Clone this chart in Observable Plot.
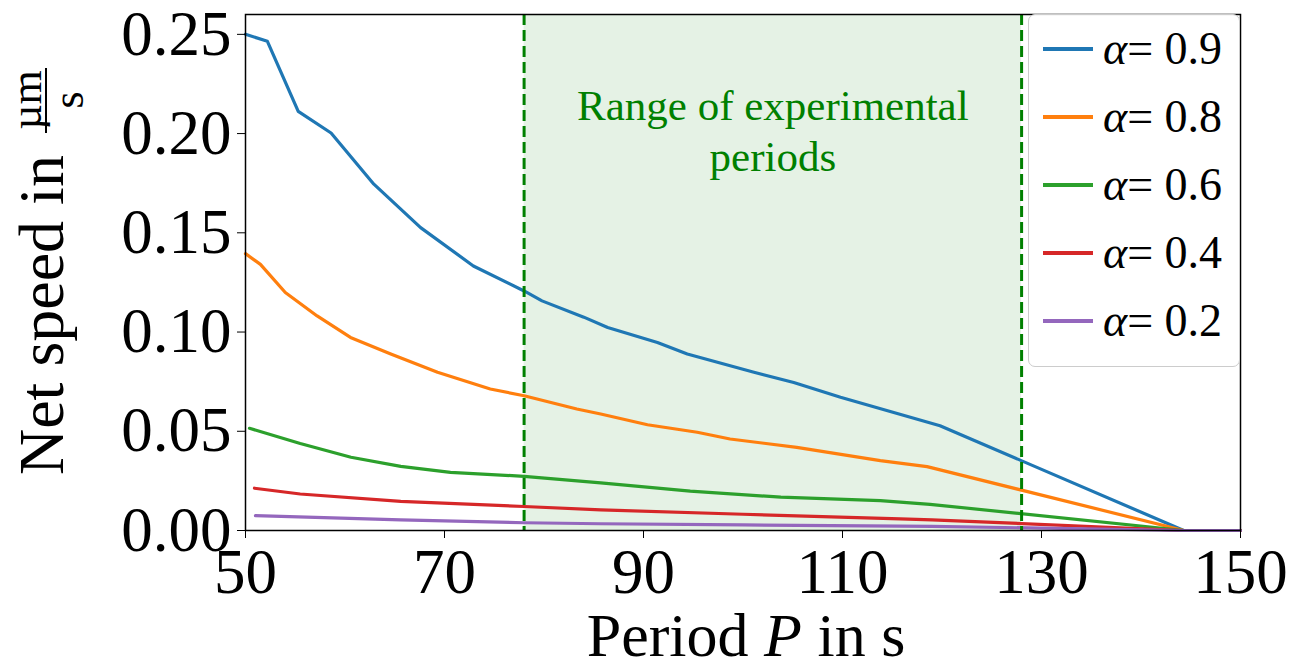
<!DOCTYPE html>
<html>
<head>
<meta charset="utf-8">
<script src="https://cdn.jsdelivr.net/npm/d3@7"></script>
<script src="https://cdn.jsdelivr.net/npm/@observablehq/plot@0.6"></script>
<style>
  html, body { margin: 0; padding: 0; background: #fff; }
  #wrap { position: relative; width: 1308px; height: 671px; font-family: "Liberation Serif", serif; }
  #legend { position: absolute; left: 1028px; top: 14px; width: 210px; height: 351px;
            border: 1.5px solid #cccccc; border-radius: 7px; background: rgba(255,255,255,0.85); box-sizing: content-box; }
  .row { display: flex; align-items: center; height: 68px; }
  .swatch { margin-left: 14px; width: 50px; height: 3.5px; }
  .lab { margin-left: 10px; font-size: 46px; color: #000; line-height: 1; }
</style>
</head>
<body>
<div id="wrap"></div>
<script>
// ---- data ----
const alphas = ["0.9", "0.8", "0.6", "0.4", "0.2"];
const colors = ["#1f77b4", "#ff7f0e", "#2ca02c", "#d62728", "#9467bd"];

const p09 = [50, 52.2, 55.3, 58.6, 62.9, 67.6, 72.9, 78, 79.8, 84, 86.4, 91.4, 94.4, 101.1, 105.1, 109.8, 119.8, 144.3, 150];
const v09 = [0.250, 0.2465, 0.2112, 0.2003, 0.1745, 0.1526, 0.1333, 0.1207, 0.1157, 0.1075, 0.1023, 0.0947, 0.0889, 0.0797, 0.0746, 0.0671, 0.0528, 0, 0];

const p08 = [50, 51.5, 54.0, 57.2, 60.55, 64.6, 69.3, 74.6, 78, 83.3, 85.7, 90.4, 95.4, 98.7, 105.4, 113.8, 118.5, 144.3, 150];
const v08 = [0.1395, 0.1341, 0.1199, 0.1081, 0.0973, 0.0889, 0.0797, 0.0713, 0.0679, 0.0612, 0.0587, 0.0533, 0.0495, 0.0461, 0.0419, 0.0352, 0.0322, 0, 0];

const p06 = [50.4, 55.5, 60.6, 65.6, 70.6, 78, 85.7, 94.7, 103.8, 113.8, 118.8, 144.3, 150];
const v06 = [0.0515, 0.0438, 0.0369, 0.0323, 0.0293, 0.0273, 0.0240, 0.0198, 0.0168, 0.0151, 0.0132, 0, 0];

const p04 = [50.9, 55.5, 65.6, 78, 85.7, 100, 115.8, 119, 144.3, 150];
const v04 = [0.0213, 0.0184, 0.0147, 0.0121, 0.0104, 0.0082, 0.0059, 0.0054, 0, 0];

const p02 = [51, 65.6, 78, 85.7, 100, 115.8, 119, 144.3, 150];
const v02 = [0.0075, 0.0054, 0.0039, 0.0034, 0.0028, 0.0022, 0.0021, 0, 0];

const expRange = [78, 128];
const xTicks = [50, 70, 90, 110, 130, 150];
const yTicks = [0, 0.05, 0.10, 0.15, 0.20, 0.25];
const annotation = [{x: 103, y: 0.202, text: "Range of experimental\nperiods"}];

// ---- build table ----
const series = [[p09, v09], [p08, v08], [p06, v06], [p04, v04], [p02, v02]];
const rows = [];
series.forEach(([ps, vs], i) => ps.forEach((p, j) => rows.push({alpha: alphas[i], P: p, v: vs[j]})));

const chart = Plot.plot({
  width: 1308,
  height: 671,
  marginLeft: 245,
  marginRight: 68,
  marginTop: 14,
  marginBottom: 141,
  style: {fontFamily: "'Liberation Serif', serif", fontSize: "63px", background: "white", color: "black"},
  x: {domain: [50, 150]},
  y: {domain: [0, 0.26]},
  color: {domain: alphas, range: colors},
  marks: [
    Plot.rect([expRange], {x1: d => d[0], x2: d => d[1], fill: "green", fillOpacity: 0.1}),
    Plot.line(rows, {x: "P", y: "v", z: "alpha", stroke: "alpha", strokeWidth: 3.2}),
    Plot.ruleX(expRange, {stroke: "green", strokeWidth: 3, strokeDasharray: "11,5"}),
    Plot.text(annotation, {x: "x", y: "y", text: "text", fill: "green", fontSize: 43, lineHeight: 1.18, textAnchor: "middle", lineAnchor: "middle"}),
    Plot.frame({stroke: "black", strokeWidth: 1.5}),
    Plot.axisX({ticks: xTicks, tickSize: 8, tickPadding: 10, label: null, tickFormat: d3.format("d")}),
    Plot.axisY({ticks: yTicks, tickSize: 8, tickPadding: 6, label: null, tickFormat: d3.format(".2f")})
  ]
});

const wrap = document.getElementById("wrap");
wrap.appendChild(chart);

// axis titles
const svg = d3.select(chart);
const xt = svg.append("text")
  .attr("x", 746).attr("y", 656)
  .attr("text-anchor", "middle")
  .attr("font-size", 62).attr("fill", "black");
xt.append("tspan").text("Period ");
xt.append("tspan").attr("font-style", "italic").text("P");
xt.append("tspan").text(" in s");

svg.append("text")
  .attr("transform", "translate(63,475) rotate(-90)")
  .attr("text-anchor", "start").attr("font-size", 64).attr("fill", "black")
  .text("Net speed in");
svg.append("text")
  .attr("transform", "translate(41,100) rotate(-90)")
  .attr("text-anchor", "middle").attr("font-size", 44).attr("fill", "black")
  .text("µm");
svg.append("line")
  .attr("x1", 46).attr("x2", 46).attr("y1", 68).attr("y2", 133)
  .attr("stroke", "black").attr("stroke-width", 2);
svg.append("text")
  .attr("transform", "translate(83,100) rotate(-90)")
  .attr("text-anchor", "middle").attr("font-size", 44).attr("fill", "black")
  .text("s");

// legend
const legend = document.createElement("div");
legend.id = "legend";
alphas.forEach((a, i) => {
  const row = document.createElement("div");
  row.className = "row";
  const sw = document.createElement("div");
  sw.className = "swatch";
  sw.style.background = colors[i];
  const lab = document.createElement("div");
  lab.className = "lab";
  lab.innerHTML = "<i>α</i>= " + a;
  row.appendChild(sw);
  row.appendChild(lab);
  legend.appendChild(row);
});
wrap.appendChild(legend);
</script>
</body>
</html>
